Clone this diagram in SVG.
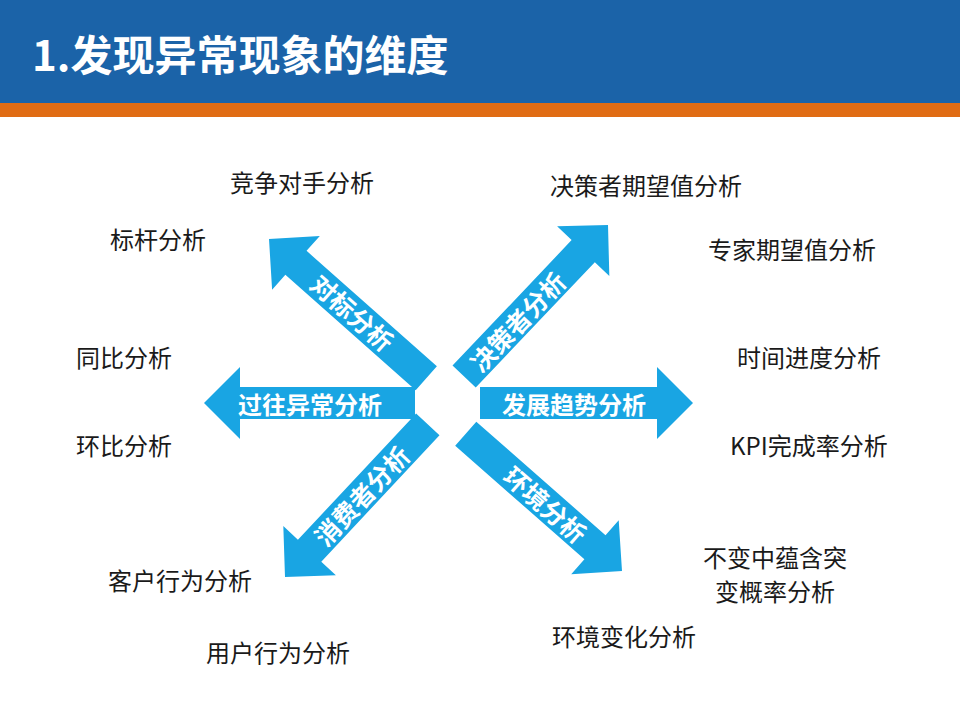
<svg xmlns="http://www.w3.org/2000/svg" width="960" height="720" viewBox="0 0 960 720">
<style>
.lbl{font-family:"Noto Sans CJK SC","Liberation Sans",sans-serif;font-size:24px;fill:#1a1a1a}
.al{font-family:"Noto Sans CJK SC","Liberation Sans",sans-serif;font-size:24px;font-weight:bold;fill:#ffffff;text-anchor:middle;dominant-baseline:central}
.ad{font-size:25px}
.arrow{fill:#19a5e3}
</style>
<rect x="0" y="0" width="960" height="720" fill="#ffffff"/>
<g id="header">
<rect x="0" y="0" width="960" height="103" fill="#1b63a8"/>
<rect x="0" y="103" width="960" height="14" fill="#e06c14"/>
<text x="32" y="71" font-family="'Noto Sans CJK SC','Liberation Sans',sans-serif" font-size="42" font-weight="bold" fill="#ffffff">1.发现异常现象的维度</text>
</g>
<g id="connectors">
<polygon class="arrow" transform="translate(204,403) rotate(180)" points="0,0 -36,-36 -36,-16 -211,-16 -211,16 -36,16 -36,36"/>
<polygon class="arrow" transform="translate(693,403)" points="0,0 -36,-36 -36,-16 -213,-16 -213,16 -36,16 -36,36"/>
<polygon class="arrow" transform="translate(269,239) rotate(221.5)" points="0,0 -36,-36 -36,-16 -210,-16 -210,16 -36,16 -36,36"/>
<polygon class="arrow" transform="translate(285,577) rotate(133.1)" points="0,0 -36,-36 -36,-16 -209,-16 -209,16 -36,16 -36,36"/>
<polygon class="arrow" transform="translate(608,225) rotate(-46.5)" points="0,0 -36,-36 -36,-16 -209,-16 -209,16 -36,16 -36,36"/>
<polygon class="arrow" transform="translate(622,571) rotate(41.3)" points="0,0 -36,-36 -36,-16 -208,-16 -208,16 -36,16 -36,36"/>
</g>
<g id="arrow-labels">
<text class="al" x="310" y="403">过往异常分析</text>
<text class="al" x="574" y="403">发展趋势分析</text>
<text class="al ad" transform="translate(353,312) rotate(41.5)">对标分析</text>
<text class="al ad" transform="translate(361,495) rotate(-46.9)">消费者分析</text>
<text class="al ad" transform="translate(517,321) rotate(-46.5)">决策者分析</text>
<text class="al ad" transform="translate(546,504) rotate(41.3)">环境分析</text>
</g>
<g id="n-jingzheng"><text class="lbl" x="230" y="192">竞争对手分析</text></g>
<g id="n-juece"><text class="lbl" x="550" y="195">决策者期望值分析</text></g>
<g id="n-biaogan"><text class="lbl" x="110" y="249">标杆分析</text></g>
<g id="n-zhuanjia"><text class="lbl" x="708" y="259">专家期望值分析</text></g>
<g id="n-tongbi"><text class="lbl" x="76" y="367">同比分析</text></g>
<g id="n-shijian"><text class="lbl" x="737" y="367">时间进度分析</text></g>
<g id="n-huanbi"><text class="lbl" x="76" y="455">环比分析</text></g>
<g id="n-kpi"><text class="lbl" x="730" y="455">KPI完成率分析</text></g>
<g id="n-kehu"><text class="lbl" x="108" y="590">客户行为分析</text></g>
<g id="n-bubian"><text class="lbl" text-anchor="middle" font-size="23"><tspan x="775" y="567">不变中蕴含突</tspan><tspan x="775" y="601">变概率分析</tspan></text></g>
<g id="n-huanjing"><text class="lbl" x="552" y="646">环境变化分析</text></g>
<g id="n-yonghu"><text class="lbl" x="206" y="662">用户行为分析</text></g>
</svg>
